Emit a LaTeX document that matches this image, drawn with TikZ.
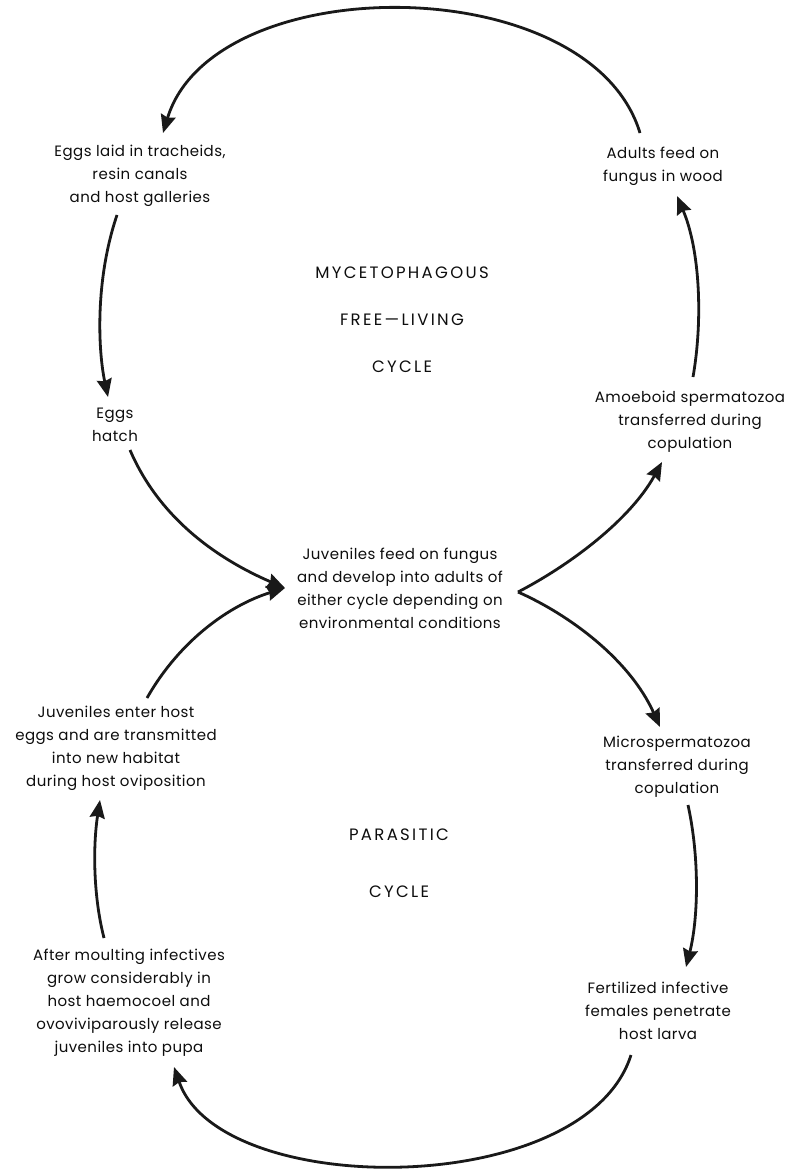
\documentclass[tikz,border=0pt]{standalone}
\usepackage{fontspec}
\setmainfont{Poppins}[LetterSpace=3]
\newfontfamily\headfont[LetterSpace=14]{Poppins}
\usetikzlibrary{arrows.meta, positioning, calc}

\begin{document}
\begin{tikzpicture}[x=1pt, y=-1pt, node distance=47pt]
\tikzstyle{note} = [align=center, inner sep=0pt, text=black!95,
                    font=\fontsize{15}{23}\selectfont]
\tikzstyle{heading} = [inner sep=0pt, text=black!95, font=\headfont\fontsize{16.5}{17}\selectfont]
\tikzstyle{arrow} = [line width=2.8pt, draw=black!90, -{Stealth[length=18pt, width=15pt, inset=2pt]}]
\useasboundingbox (0,0) rectangle (788,1169);

% free-living cycle
\node (eggslaid) [note] at (140,176) {Eggs laid in tracheids,\\ resin canals\\ and host galleries};
\node (adults) [note] at (663,166) {Adults feed on\\ fungus in wood};
\node (hatch) [note] at (115,425) {Eggs\\ hatch};
\node (amoeboid) [note] at (690,422) {Amoeboid spermatozoa\\ transferred during\\ copulation};
\node (juvfeed) [note] at (400,588) {Juveniles feed on fungus\\ and develop into adults of\\ either cycle depending on\\ environmental conditions};

% parasitic cycle
\node (juventer) [note] at (116,748) {Juveniles enter host\\ eggs and are transmitted\\ into new habitat\\ during host oviposition};
\node (microsp) [note] at (677,767) {Microspermatozoa\\ transferred during\\ copulation};
\node (moult) [note] at (129,1003) {After moulting infectives\\ grow considerably in\\ host haemocoel and\\ ovoviviparously release\\ juveniles into pupa};
\node (fertil) [note] at (658,1011) {Fertilized infective\\ females penetrate\\ host larva};

% cycle names
\node (mycet) [heading] at (402,273) {MYCETOPHAGOUS};
\node (freeliv) [heading, below of=mycet] {FREE—LIVING};
\node (cyclea) [heading, below of=freeliv] {CYCLE};
\node (parasit) [heading] at (399,835) {PARASITIC};
\node (cycleb) [heading, node distance=57pt, below of=parasit] {CYCLE};

\draw [arrow] ($(adults)+(-23,-33)$) .. controls (590,-32) and (213,-32) .. ($(eggslaid)+(23,-43)$);
\draw [arrow] ($(eggslaid)+(-23,39)$) .. controls (95,280) and (98,350) .. ($(hatch)+(-7,-28)$);
\draw [arrow] ($(hatch)+(15,25)$) .. controls (160,520) and (220,560) .. ($(juvfeed)+(-115,0)$);
\draw [arrow] ($(juvfeed)+(118,4)$) .. controls (570,565) and (630,520) .. ($(amoeboid)+(-28,40)$);
\draw [arrow] ($(amoeboid)+(3,-45)$) .. controls (703,320) and (700,250) .. ($(adults)+(14,30)$);
\draw [arrow] ($(juvfeed)+(118,4)$) .. controls (570,615) and (630,660) .. ($(microsp)+(-17,-40)$);
\draw [arrow] ($(microsp)+(11,38)$) .. controls (700,860) and (698,920) .. ($(fertil)+(28,-44)$);
\draw [arrow] ($(fertil)+(-27,44)$) .. controls (585,1200) and (220,1200) .. ($(moult)+(45,64)$);
\draw [arrow] ($(moult)+(-25,-65)$) .. controls (93,895) and (93,845) .. ($(juventer)+(-16,52)$);
\draw [arrow] ($(juventer)+(31,-50)$) .. controls (180,640) and (230,605) .. ($(juvfeed)+(-115,0)$);
\end{tikzpicture}
\end{document}
